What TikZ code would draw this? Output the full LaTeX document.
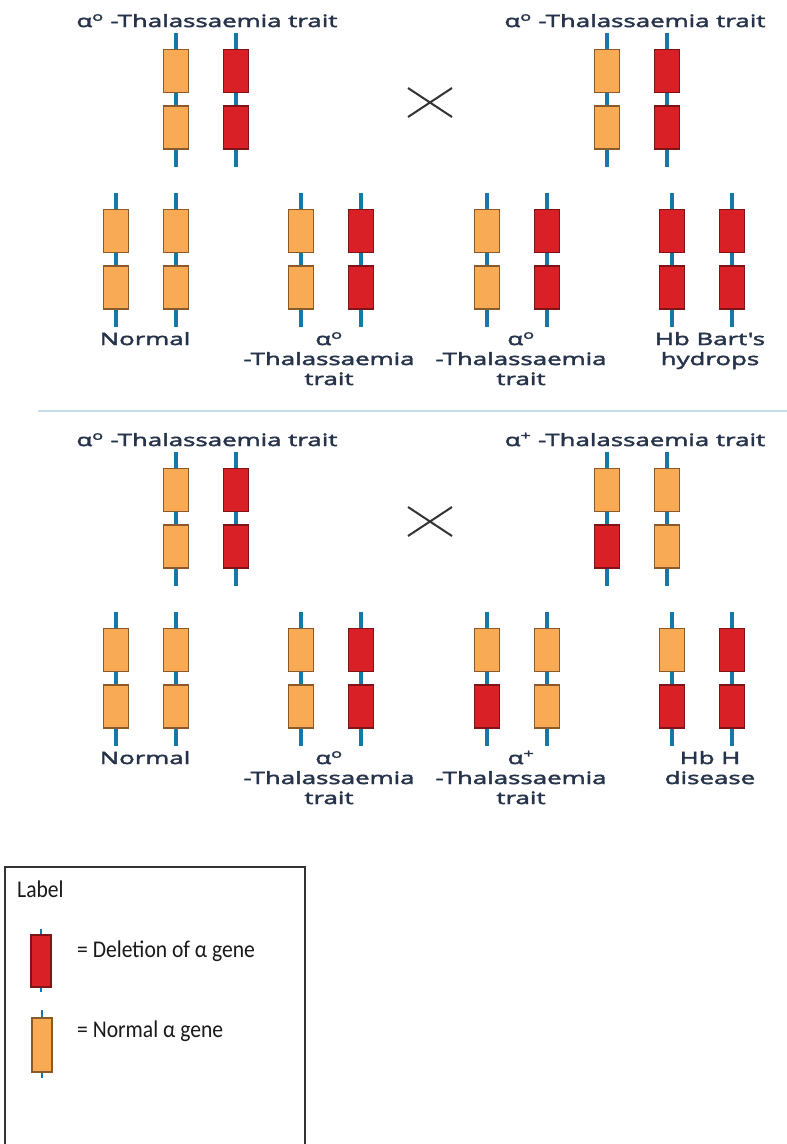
\documentclass[tikz,border=0pt]{standalone}
\usepackage{fontspec}
\newfontfamily\labfont{Open Sans}[FakeStretch=1.52,FakeBold=2.5,Ligatures=TeXOff]
\newfontfamily\legfont{Carlito}[FakeStretch=0.9]
\definecolor{gorange}{HTML}{F9AA55}
\definecolor{gorangeline}{HTML}{8A5A2A}
\definecolor{gred}{HTML}{D92027}
\definecolor{gredline}{HTML}{7F1416}
\definecolor{chromblue}{HTML}{1479A6}
\definecolor{labtext}{HTML}{26334A}
\definecolor{sepblue}{HTML}{C3DEEB}
\newcommand\chromo[5]{%
  \coordinate (#1-t) at (#2,#3);
  \coordinate (#1-b) at (#2,#3+134);
  \draw[chromline] (#1-t) -- (#1-b);
  \node[#4] (#1-u) at (#2,#3+38) {};
  \node[#5] (#1-l) at (#2,#3+94.5) {};
}
\begin{document}
\begin{tikzpicture}[x=1pt,y=-1pt,
  chromline/.style={draw=chromblue,line width=3.6pt},
  gene/.style={line width=1.3pt,minimum width=25pt,minimum height=43pt,inner sep=0pt},
  ok/.style={gene,fill=gorange,draw=gorangeline},
  del/.style={gene,fill=gred,draw=gredline},
  lab/.style={font=\labfont\fontsize{17}{20}\selectfont,text=labtext,inner sep=0pt,anchor=base},
  leg/.style={font=\legfont\fontsize{24}{28}\selectfont,text=black!90,inner sep=0pt,anchor=base west},
  crossline/.style={draw=black!80,line width=2pt},
  sepline/.style={draw=sepblue,line width=1.3pt},
  legbox/.style={draw=black!80,line width=1.2pt},
  tick/.style={draw=chromblue,line width=2pt}]
\useasboundingbox (0,0) rectangle (787,1144);
\fill[white] (0,0) rectangle (787,1144);

% ---------- upper cross ----------
\node[lab] (h1) at (207,27) {α\textsuperscript{o} -Thalassaemia trait};
\node[lab] (h2) at (635,27) {α\textsuperscript{o} -Thalassaemia trait};
\chromo{pa1}{176}{33}{ok}{ok}
\chromo{pa2}{236}{33}{del}{del}
\chromo{pa3}{607}{33}{ok}{ok}
\chromo{pa4}{667}{33}{del}{del}
\coordinate (xa1) at (408,88); \coordinate (xa2) at (452,117);
\coordinate (xa3) at (408,117); \coordinate (xa4) at (452,88);
\draw[crossline] (xa1) -- (xa2) (xa3) -- (xa4);

\chromo{oa1}{116}{193}{ok}{ok}
\chromo{oa2}{176}{193}{ok}{ok}
\chromo{oa3}{301}{193}{ok}{ok}
\chromo{oa4}{361}{193}{del}{del}
\chromo{oa5}{487}{193}{ok}{ok}
\chromo{oa6}{547}{193}{del}{del}
\chromo{oa7}{672}{193}{del}{del}
\chromo{oa8}{732}{193}{del}{del}

\node[lab] (la1) at (145,345) {Normal};
\node[lab] (la2a) at (329,345) {α\textsuperscript{o}};
\node[lab] (la2b) at (329,365) {-Thalassaemia};
\node[lab] (la2c) at (329,385) {trait};
\node[lab] (la3a) at (521,345) {α\textsuperscript{o}};
\node[lab] (la3b) at (521,365) {-Thalassaemia};
\node[lab] (la3c) at (521,385) {trait};
\node[lab] (la4a) at (710,345) {Hb Bart's};
\node[lab] (la4b) at (710,365) {hydrops};

% ---------- separator ----------
\coordinate (s1) at (38,411); \coordinate (s2) at (787,411);
\draw[sepline] (s1) -- (s2);

% ---------- lower cross ----------
\node[lab] (h3) at (207,446) {α\textsuperscript{o} -Thalassaemia trait};
\node[lab] (h4) at (635,446) {α\textsuperscript{+} -Thalassaemia trait};
\chromo{pb1}{176}{452}{ok}{ok}
\chromo{pb2}{236}{452}{del}{del}
\chromo{pb3}{607}{452}{ok}{del}
\chromo{pb4}{667}{452}{ok}{ok}
\coordinate (xb1) at (408,507); \coordinate (xb2) at (452,536);
\coordinate (xb3) at (408,536); \coordinate (xb4) at (452,507);
\draw[crossline] (xb1) -- (xb2) (xb3) -- (xb4);

\chromo{ob1}{116}{612}{ok}{ok}
\chromo{ob2}{176}{612}{ok}{ok}
\chromo{ob3}{301}{612}{ok}{ok}
\chromo{ob4}{361}{612}{del}{del}
\chromo{ob5}{487}{612}{ok}{del}
\chromo{ob6}{547}{612}{ok}{ok}
\chromo{ob7}{672}{612}{ok}{del}
\chromo{ob8}{732}{612}{del}{del}

\node[lab] (lb1) at (145,764) {Normal};
\node[lab] (lb2a) at (329,764) {α\textsuperscript{o}};
\node[lab] (lb2b) at (329,784) {-Thalassaemia};
\node[lab] (lb2c) at (329,804) {trait};
\node[lab] (lb3a) at (521,764) {α\textsuperscript{+}};
\node[lab] (lb3b) at (521,784) {-Thalassaemia};
\node[lab] (lb3c) at (521,804) {trait};
\node[lab] (lb4a) at (710,764) {Hb H};
\node[lab] (lb4b) at (710,784) {disease};

% ---------- legend ----------
\coordinate (g1) at (5,1144); \coordinate (g2) at (5,867);
\coordinate (g3) at (305,867); \coordinate (g4) at (305,1144);
\draw[legbox] (g1) -- (g2) -- (g3) -- (g4);
\node[leg] (legtitle) at (17,897) {Label};
\node[del,minimum width=20pt,minimum height=52pt] (legdel) at (41,961) {};
\draw[tick] (legdel.north) -- ++(0,-5);
\draw[tick] (legdel.south) -- ++(0,4);
\node[leg] (legdeltext) at (77,957) {= Deletion of α gene};
\node[ok,minimum width=20pt,minimum height=54pt] (legok) at (42,1045) {};
\draw[tick] (legok.north) -- ++(0,-7);
\draw[tick] (legok.south) -- ++(0,5);
\node[leg] (legoktext) at (77,1037) {= Normal α gene};
\end{tikzpicture}
\end{document}
